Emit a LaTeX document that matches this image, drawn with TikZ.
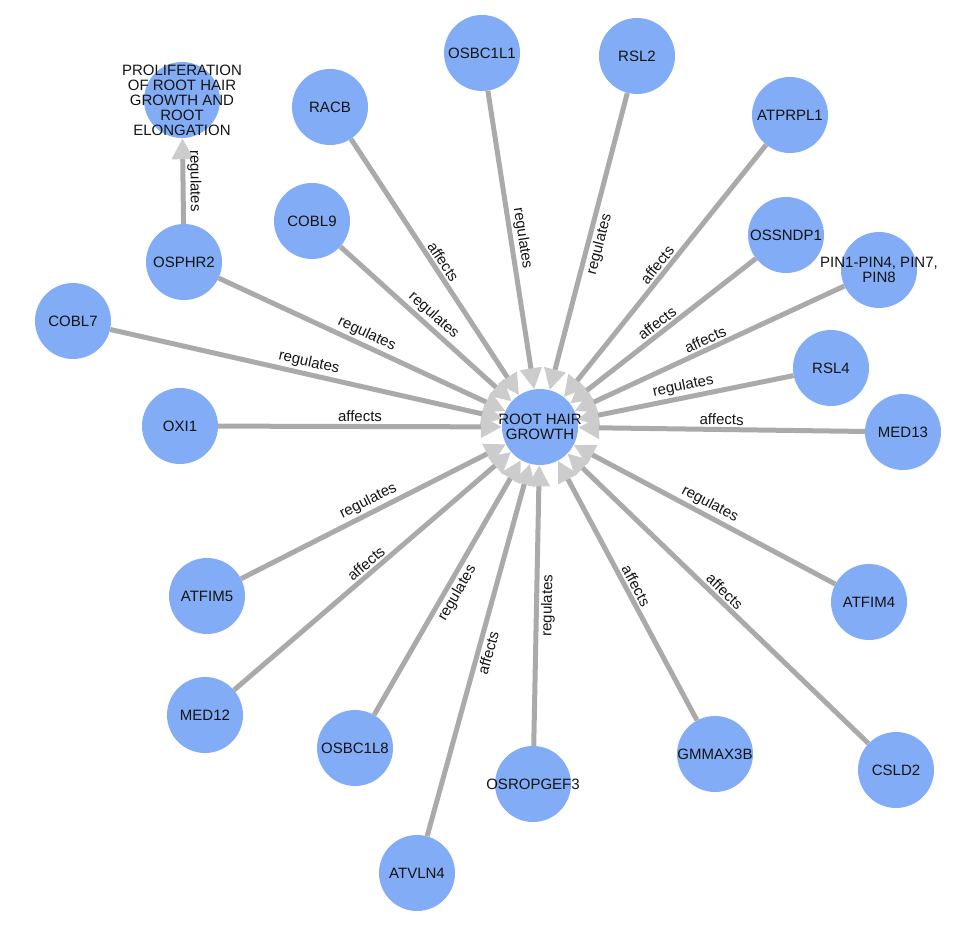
\documentclass[tikz,border=0pt]{standalone}
\usepackage{fontspec}
\setmainfont{Liberation Sans}
\usetikzlibrary{arrows.meta}
\definecolor{geneblue}{RGB}{130,172,245}
\definecolor{edgegray}{RGB}{170,170,170}
\definecolor{tipgray}{RGB}{204,204,204}
\definecolor{textdark}{RGB}{20,20,20}

\begin{document}
\begin{tikzpicture}[x=1pt, y=-1pt,
        gene text/.style={font=\fontsize{15}{15}\selectfont, text=textdark, align=center},
        gene/.style={circle, fill=geneblue, minimum size=76pt, inner sep=0pt,
            label={[gene text]center:{#1}}},
        link/.style={draw=edgegray, line width=5pt,
            -{Triangle[length=21pt, width=21pt, color=tipgray]}},
        tag/.style={font=\fontsize{15}{15}\selectfont, text=textdark,
            sloped, midway, inner sep=2pt},
    ]
        \useasboundingbox (0,0) rectangle (970,933);

        % Centre node
        \node[gene={ROOT HAIR\\GROWTH}] (root) at (540,427) {};

        % Upper nodes
        \node[gene={PROLIFERATION\\OF ROOT HAIR\\GROWTH AND\\ROOT\\ELONGATION}] (prolif) at (182,100) {};
        \node[gene=OSPHR2] (osphr2) at (184,262) {};
        \node[gene=RACB] (racb) at (330,107) {};
        \node[gene=COBL9] (cobl9) at (312,221) {};
        \node[gene=OSBC1L1] (osbc1l1) at (482,53) {};
        \node[gene=RSL2] (rsl2) at (637,56) {};
        \node[gene=ATPRPL1] (atprpl1) at (790,115) {};
        \node[gene=OSSNDP1] (ossndp1) at (786,235) {};
        \node[gene={PIN1-PIN4, PIN7,\\PIN8}] (pin) at (879,270) {};

        % Side nodes
        \node[gene=COBL7] (cobl7) at (73,321) {};
        \node[gene=OXI1] (oxi1) at (180,426) {};
        \node[gene=RSL4] (rsl4) at (831,368) {};
        \node[gene=MED13] (med13) at (903,432) {};

        % Lower nodes
        \node[gene=ATFIM5] (atfim5) at (207,596) {};
        \node[gene=ATFIM4] (atfim4) at (869,602) {};
        \node[gene=MED12] (med12) at (205,715) {};
        \node[gene=OSBC1L8] (osbc1l8) at (355,748) {};
        \node[gene=OSROPGEF3] (osropgef3) at (533,784) {};
        \node[gene=GMMAX3B] (gmmax3b) at (715,754) {};
        \node[gene=CSLD2] (csld2) at (896,770) {};
        \node[gene=ATVLN4] (atvln4) at (417,873) {};

        % Links
        \draw[link] (osphr2) -- node[tag, above] {regulates} (prolif);
        \draw[link] (racb) -- node[tag, above] {affects} (root);
        \draw[link] (cobl9) -- node[tag, above] {regulates} (root);
        \draw[link] (osphr2) -- node[tag, above] {regulates} (root);
        \draw[link] (cobl7) -- node[tag, above] {regulates} (root);
        \draw[link] (oxi1) -- node[tag, above] {affects} (root);
        \draw[link] (osbc1l1) -- node[tag, above] {regulates} (root);
        \draw[link] (rsl2) -- node[tag, below] {regulates} (root);
        \draw[link] (atprpl1) -- node[tag, above] {affects} (root);
        \draw[link] (ossndp1) -- node[tag, above] {affects} (root);
        \draw[link] (pin) -- node[tag, above] {affects} (root);
        \draw[link] (rsl4) -- node[tag, above] {regulates} (root);
        \draw[link] (med13) -- node[tag, above] {affects} (root);
        \draw[link] (atfim4) -- node[tag, above] {regulates} (root);
        \draw[link] (csld2) -- node[tag, above] {affects} (root);
        \draw[link] (gmmax3b) -- node[tag, above] {affects} (root);
        \draw[link] (osropgef3) -- node[tag, below] {regulates} (root);
        \draw[link] (atvln4) -- node[tag, below] {affects} (root);
        \draw[link] (osbc1l8) -- node[tag, below] {regulates} (root);
        \draw[link] (med12) -- node[tag, above] {affects} (root);
        \draw[link] (atfim5) -- node[tag, above] {regulates} (root);
    \end{tikzpicture}
\end{document}
